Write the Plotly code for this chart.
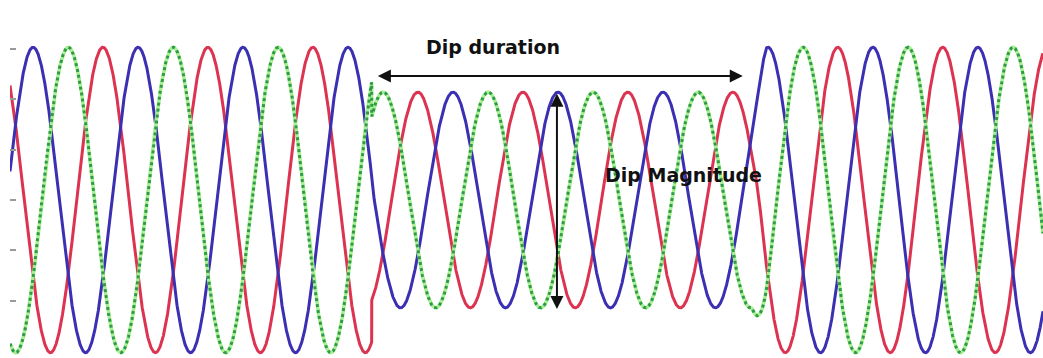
import numpy as np
import plotly.graph_objects as go

# ---- values ----
period_ms = 20.0                      # one cycle of the supply
phase_names = ["Phase A", "Phase B", "Phase C"]
phase_first_peak_ms = [4.4, 11.1, 17.7]   # first crest of each phase
phase_colors = ["#3b2fb2", "#7fe07a", "#dc3350"]

# amplitude envelope (V): normal -> dip -> recovery
env_t_ms = [0.0, 68.9, 68.92, 141.3, 144.0, 196.8]
env_amp_v = [303.0, 303.0, 214.0, 214.0, 303.0, 303.0]

ytick_vals = [300, 200, 100, 0, -100, -200]

dip_start_ms = env_t_ms[1]
dip_end_ms = 139.6
magnitude_at_ms = 104.2
duration_label_ms = 92.1
magnitude_label_ms = 128.4

# ---- build curves ----
t = np.arange(env_t_ms[0], env_t_ms[-1] + 0.01, 0.02)
amp = np.interp(t, env_t_ms, env_amp_v)

def wave(peak):
    return amp * np.cos(2 * np.pi * (t - peak) / period_ms)

fig = go.Figure()
order = [2, 0, 1]
for i in order:
    y = wave(phase_first_peak_ms[i])
    if i == 1:
        fig.add_trace(go.Scatter(x=t, y=y, mode="lines", name=phase_names[i],
                                 line=dict(color="#a6f08f", width=3.5),
                                 hoverinfo="skip", showlegend=False))
        fig.add_trace(go.Scatter(x=t, y=y, mode="lines", name=phase_names[i],
                                 line=dict(color="#2f9a4a", width=3, dash="dot"),
                                 showlegend=False))
    else:
        fig.add_trace(go.Scatter(x=t, y=y, mode="lines", name=phase_names[i],
                                 line=dict(color=phase_colors[i], width=3),
                                 showlegend=False))

nom = env_amp_v[0]
dip = env_amp_v[2]
arrow_y = 246

fig.add_annotation(x=dip_end_ms, y=arrow_y, ax=dip_start_ms + 0.9, ay=arrow_y,
                   xref="x", yref="y", axref="x", ayref="y", text="",
                   showarrow=True, arrowhead=2, startarrowhead=2,
                   arrowside="end+start", arrowsize=1.3, startarrowsize=1.3,
                   arrowwidth=2, arrowcolor="#111111", standoff=0, startstandoff=0)
fig.add_annotation(x=magnitude_at_ms, y=-dip * 1.01, ax=magnitude_at_ms, ay=dip,
                   xref="x", yref="y", axref="x", ayref="y", text="",
                   showarrow=True, arrowhead=2, startarrowhead=2,
                   arrowside="end+start", arrowsize=1.3, startarrowsize=1.3,
                   arrowwidth=2, arrowcolor="#111111", standoff=0, startstandoff=0)
fig.add_annotation(x=duration_label_ms, y=nom, text="<b>Dip duration</b>",
                   showarrow=False, xref="x", yref="y",
                   font=dict(family="DejaVu Sans", size=19, color="#111111"))
fig.add_annotation(x=magnitude_label_ms, y=50, text="<b>Dip Magnitude</b>",
                   showarrow=False, xref="x", yref="y",
                   font=dict(family="DejaVu Sans", size=19, color="#111111"))

fig.update_layout(
    width=1043, height=358,
    margin=dict(l=10, r=0, t=0, b=0),
    paper_bgcolor="white", plot_bgcolor="white",
    showlegend=False,
    xaxis=dict(range=[0, 196.8], visible=False),
    yaxis=dict(range=[-313.5, 396.8], showgrid=False, zeroline=False,
               showticklabels=False, ticks="inside", ticklen=6,
               tickcolor="#9a9a9a", tickwidth=1.5, tickvals=ytick_vals,
               showline=False),
)

fig.write_html("out.html", config={"displayModeBar": False},
               post_script="document.body.style.margin='0';"
                           "document.body.style.overflow='hidden';")
